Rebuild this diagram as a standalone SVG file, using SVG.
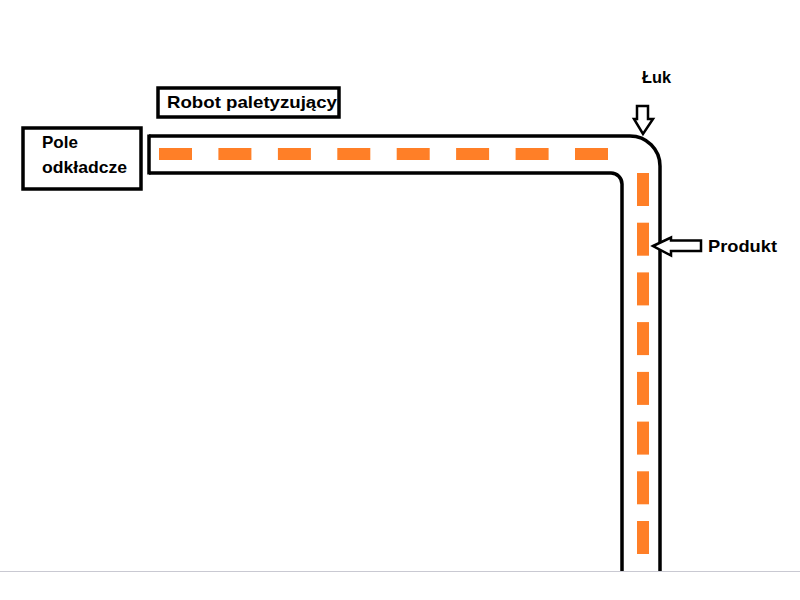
<svg xmlns="http://www.w3.org/2000/svg" width="800" height="600" viewBox="0 0 800 600">
<style>
.box{fill:#fff;stroke:#000;stroke-width:3.5}
.wall{fill:none;stroke:#000;stroke-width:3.5}
.dash{fill:#FF7F27}
.lbl{font-family:"Liberation Sans",Arial,sans-serif;font-weight:bold;font-size:17px;fill:#000}
.arr{fill:#fff;stroke:#000;stroke-width:2.5;stroke-linejoin:miter}
</style>
<rect width="800" height="600" fill="#fff"/>
<line x1="0" y1="571.5" x2="800" y2="571.5" stroke="#c9c9d2" stroke-width="1.2"/>
<g id="conveyor">
<path class="wall" d="M149,136 H630 A30,30 0 0 1 660,166 V571"/>
<path class="wall" d="M149,173 H611 A11,11 0 0 1 622,184 V571"/>
<line class="wall" x1="149" y1="134.5" x2="149" y2="174.5"/>
<g class="dash">
<rect x="159" y="148" width="33" height="12"/>
<rect x="218.4" y="148" width="33" height="12"/>
<rect x="277.9" y="148" width="33" height="12"/>
<rect x="337.3" y="148" width="33" height="12"/>
<rect x="396.7" y="148" width="33" height="12"/>
<rect x="456.1" y="148" width="33" height="12"/>
<rect x="515.6" y="148" width="33" height="12"/>
<rect x="575" y="148" width="33" height="12"/>
<rect x="637" y="173" width="12" height="33"/>
<rect x="637" y="222.7" width="12" height="33"/>
<rect x="637" y="272.4" width="12" height="33"/>
<rect x="637" y="322.1" width="12" height="33"/>
<rect x="637" y="371.9" width="12" height="33"/>
<rect x="637" y="421.6" width="12" height="33"/>
<rect x="637" y="471.3" width="12" height="33"/>
<rect x="637" y="521" width="12" height="33"/>
</g>
</g>
<g id="robot">
<rect class="box" x="158" y="88" width="181" height="29"/>
<text class="lbl" x="167" y="108" textLength="170" lengthAdjust="spacingAndGlyphs">Robot paletyzujący</text>
</g>
<g id="pole">
<rect class="box" x="23" y="128" width="118" height="61"/>
<text class="lbl" x="42" y="148">Pole</text>
<text class="lbl" x="42" y="173" textLength="85" lengthAdjust="spacingAndGlyphs">odkładcze</text>
</g>
<g id="luk">
<text class="lbl" x="642" y="83" textLength="29" lengthAdjust="spacingAndGlyphs">Łuk</text>
</g>
<g id="produkt">
<text class="lbl" x="708" y="252" textLength="69" lengthAdjust="spacingAndGlyphs">Produkt</text>
</g>
<g id="connectors">
<path class="arr" d="M637,106 H648 V119 H653 L643,134 L634,119 H637 Z"/>
<path class="arr" d="M653,246 L671,237.5 V240.5 H701 V251 H671 V255.5 Z"/>
</g>
</svg>
